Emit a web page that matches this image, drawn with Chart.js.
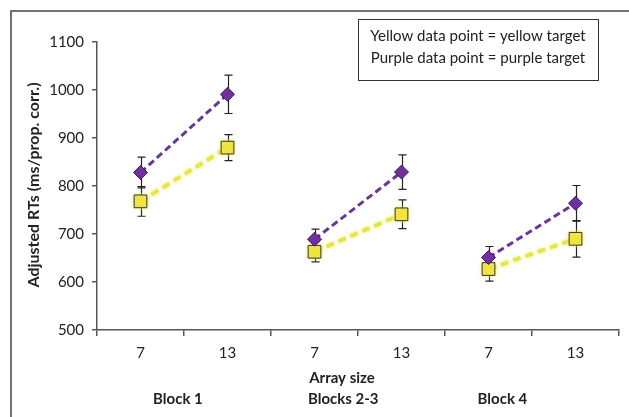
<!DOCTYPE html>
<html>
<head>
<meta charset="utf-8">
<script src="https://cdn.jsdelivr.net/npm/chart.js@4.4.1/dist/chart.umd.min.js"></script>
<style>
  html, body { margin: 0; padding: 0; background: #fff; }
  #wrap { width: 629px; height: 417px; position: relative; }
</style>
</head>
<body>
<div id="wrap"><canvas id="chart" width="629" height="417"></canvas></div>
<script>
// array sizes per block, mean adjusted RTs and their error bars
const sizes = ['7', '13', '7', '13', '7', '13'];
const blocks = ['Block 1', 'Blocks 2-3', 'Block 4'];
const blockPos = [0.43, 2.33, 4.16]; // label centres, in category units
const purpleRT = [828, 991, 689, 829, 651, 764];
const purpleErr = [32, 40, 21, 36, 23, 37];
const yellowRT = [768, 880, 663, 741, 627, 690];
const yellowErr = [31, 27, 21, 30, 25, 38];
const yTicks = [500, 600, 700, 800, 900, 1000, 1100];
const noteLines = ['Yellow data point = yellow target', 'Purple data point = purple target'];

const FONT = 'Lato, "Open Sans", sans-serif';
const INK = '#222';
const PURPLE = '#7030a0';
const PURPLE_LINE = '#6a3595';
const YELLOW = '#f1e53a';
const YELLOW_LINE = '#e6e645';

// only join 7 -> 13 inside a block
const inBlock = color => c => (c.p0DataIndex % 2 ? 'rgba(0,0,0,0)' : color);

const errorBars = {
  id: 'errorBars',
  beforeDatasetsDraw(chart) {
    const { ctx, scales: { x, y } } = chart;
    ctx.save();
    ctx.strokeStyle = INK;
    ctx.lineWidth = 1.2;
    [[purpleRT, purpleErr], [yellowRT, yellowErr]].forEach(([vals, errs]) => {
      vals.forEach((v, i) => {
        const px = Math.round(x.getPixelForValue(i)) + 0.5;
        const top = y.getPixelForValue(v + errs[i]);
        const bot = y.getPixelForValue(v - errs[i]);
        ctx.beginPath();
        ctx.moveTo(px, top); ctx.lineTo(px, bot);
        ctx.moveTo(px - 4, top); ctx.lineTo(px + 4, top);
        ctx.moveTo(px - 4, bot); ctx.lineTo(px + 4, bot);
        ctx.stroke();
      });
    });
    ctx.restore();
  }
};

// soft halo on the yellow dashed line
const glow = {
  id: 'glow',
  beforeDatasetDraw(chart, args) {
    if (args.index !== 1) return;
    chart.ctx.save();
    chart.ctx.shadowColor = 'rgba(236, 236, 110, 0.9)';
    chart.ctx.shadowBlur = 4;
  },
  afterDatasetDraw(chart, args) {
    if (args.index === 1) chart.ctx.restore();
  }
};

const extras = {
  id: 'extras',
  afterDraw(chart) {
    const { ctx, scales: { x } } = chart;
    ctx.save();
    // outer frame
    ctx.strokeStyle = '#444';
    ctx.lineWidth = 1.5;
    ctx.beginPath();
    ctx.moveTo(11, 417); ctx.lineTo(11, 11); ctx.lineTo(629, 11);
    ctx.stroke();

    // note box
    ctx.lineWidth = 1;
    ctx.strokeStyle = '#333';
    ctx.strokeRect(358.5, 19.5, 240, 61);
    ctx.fillStyle = INK;
    ctx.font = '15px ' + FONT;
    ctx.textAlign = 'center';
    ctx.textBaseline = 'middle';
    noteLines.forEach((t, i) => ctx.fillText(t, 478, 36 + i * 22));

    // y title
    ctx.font = 'bold 16px ' + FONT;
    ctx.save();
    ctx.translate(34, 185);
    ctx.rotate(-Math.PI / 2);
    ctx.fillText('Adjusted RTs (ms/prop. corr.)', 0, 0);
    ctx.restore();

    // x title and block names
    ctx.font = 'bold 15px ' + FONT;
    ctx.fillText('Array size', 342, 378);
    blocks.forEach((b, i) => ctx.fillText(b, x.getPixelForValue(blockPos[i]), 399));
    ctx.restore();
  }
};

new Chart(document.getElementById('chart'), {
  type: 'line',
  data: {
    labels: sizes,
    datasets: [
      {
        label: 'Purple target',
        data: purpleRT,
        borderColor: PURPLE_LINE,
        borderWidth: 3,
        borderDash: [7, 4],
        segment: { borderColor: inBlock(PURPLE_LINE) },
        pointStyle: 'rectRot',
        pointRadius: 7,
        pointBackgroundColor: PURPLE,
        pointBorderColor: '#3b1a55',
        pointBorderWidth: 1,
        tension: 0
      },
      {
        label: 'Yellow target',
        data: yellowRT,
        borderColor: YELLOW_LINE,
        borderWidth: 4,
        borderDash: [8, 5],
        segment: { borderColor: inBlock(YELLOW_LINE) },
        pointStyle: 'rect',
        pointRadius: 9,
        pointBackgroundColor: YELLOW,
        pointBorderColor: '#333',
        pointBorderWidth: 1,
        tension: 0
      }
    ]
  },
  options: {
    responsive: false,
    animation: false,
    devicePixelRatio: 1,
    layout: { padding: { top: 42, right: 7, bottom: 0, left: 0 } },
    plugins: { legend: { display: false }, tooltip: { enabled: false } },
    scales: {
      x: {
        offset: true,
        afterFit: s => { s.height = 87; },
        border: { color: '#555', width: 1.5 },
        grid: { offset: true, drawOnChartArea: false, tickLength: 6, color: '#555', lineWidth: 1.5 },
        ticks: { color: INK, font: { family: FONT, size: 15 }, padding: 8, maxRotation: 0 }
      },
      y: {
        min: 500,
        max: 1100,
        afterBuildTicks: s => { s.ticks = yTicks.map(v => ({ value: v })); },
        afterFit: s => { s.width = 97; },
        border: { color: '#555', width: 1.5 },
        grid: { drawOnChartArea: false, tickLength: 5, color: '#555', lineWidth: 1.5 },
        ticks: { color: INK, font: { family: FONT, size: 15 }, padding: 8, callback: v => String(v) }
      }
    }
  },
  plugins: [errorBars, glow, extras]
});
</script>
</body>
</html>
